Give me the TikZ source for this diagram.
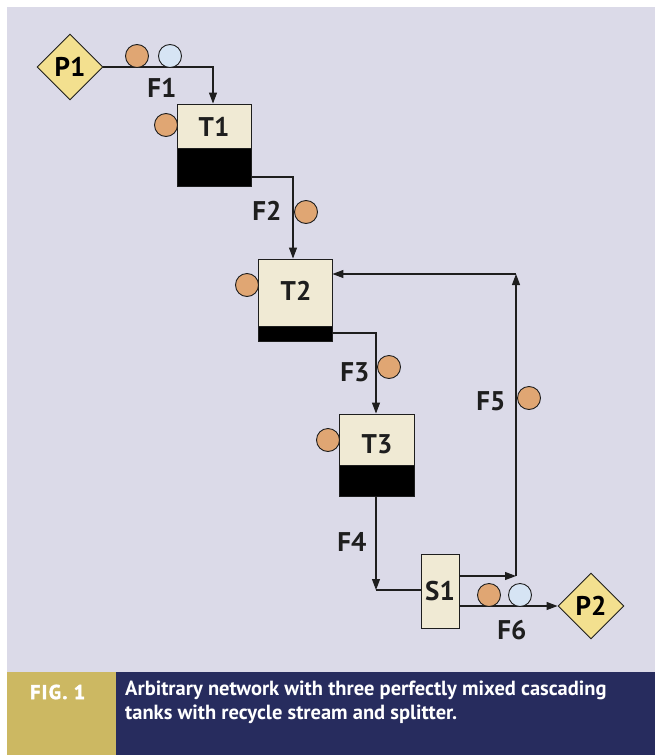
\documentclass[tikz,border=0pt]{standalone}
\usepackage{fontspec}
\setmainfont{PT Sans}
\usetikzlibrary{shapes.geometric,arrows.meta,calc}

\definecolor{panelbg}{HTML}{DBDAE8}
\definecolor{tankfill}{HTML}{F0EAD4}
\definecolor{dotorange}{HTML}{E0A673}
\definecolor{dotblue}{HTML}{D6E4F4}
\definecolor{portfill}{HTML}{F3E08F}
\definecolor{capnavy}{HTML}{272C5E}
\definecolor{capgold}{HTML}{CCB862}
\definecolor{ink}{HTML}{1E1E1E}

\tikzset{
  port/.style={diamond, aspect=1, draw=ink, line width=0.9pt, fill=portfill,
    inner sep=0pt, minimum width=66pt, minimum height=66pt,
    font=\bfseries\fontsize{27}{29}\selectfont},
  tank/.style={rectangle, draw=ink, line width=0.9pt, fill=tankfill, inner sep=0pt},
  lbl/.style={font=\bfseries\fontsize{27}{29}\selectfont, text=ink, inner sep=0pt},
  dot/.style={circle, draw=ink, line width=0.9pt, minimum size=23pt, inner sep=0pt},
  odot/.style={dot, fill=dotorange},
  bdot/.style={dot, fill=dotblue},
  flow/.style={draw=ink, line width=1.1pt, -{Triangle[length=11pt,width=8pt]}},
  pipe/.style={draw=ink, line width=1.1pt},
}

\begin{document}
\begin{tikzpicture}[x=1pt,y=-1pt]
  % page and panel
  \useasboundingbox (0,0) rectangle (655,755);
  \fill[white] (0,0) rectangle (655,755);
  \fill[panelbg] (7,7) rectangle (655,672);
  \fill[capnavy] (7,672) rectangle (655,755);
  \fill[capgold] (7,672) rectangle (116,755);

  % caption
  \node[anchor=west, text=white, inner sep=0pt,
        font=\bfseries\fontsize{20}{22}\selectfont\addfontfeatures{LetterSpace=7,FakeBold=2.5}]
        (fig) at (30,692) {FIG. 1};
  \node[anchor=north west, text=white, inner sep=0pt, align=left,
        font=\bfseries\fontsize{20.5}{23.5}\selectfont] (cap) at (125,681)
        {Arbitrary network with three perfectly mixed cascading\\
         tanks with recycle stream and splitter.};

  % ports
  \node[port] (P1) at (70,67) {P1};
  \node[port] (P2) at (591,606) {P2};

  % tanks: cream body with black liquid layer at the bottom
  \node[tank, minimum width=74pt, minimum height=82pt] (T1) at (214,145) {};
  \filldraw[black, draw=ink, line width=0.9pt] (177,148) rectangle (251,186);
  \node[lbl] (T1l) at (214,127) {T1};

  \node[tank, minimum width=74pt, minimum height=82pt] (T2) at (295,300) {};
  \filldraw[black, draw=ink, line width=0.9pt] (258,326) rectangle (332,341);
  \node[lbl] (T2l) at (296,291) {T2};

  \node[tank, minimum width=75pt, minimum height=82pt] (T3) at (376.5,455) {};
  \filldraw[black, draw=ink, line width=0.9pt] (339,465) rectangle (414,496);
  \node[lbl] (T3l) at (377,444) {T3};

  % splitter
  \node[tank, minimum width=38pt, minimum height=74pt, lbl] (S1) at (440,591) {S1};

  % bend points
  \coordinate (c2) at (293,177);
  \coordinate (c3) at (376,333);
  \coordinate (c4) at (376,590);
  \coordinate (c5a) at (516,576);
  \coordinate (c5b) at (516,274);

  % streams
  \draw[flow] (P1.east) -| (T1.north -| 213,0);
  \draw[flow] (T1.east |- c2) -- (c2) -- (T2.north -| c2);
  \draw[flow] (T2.east |- c3) -- (c3) -- (T3.north -| c3);
  \draw[flow] (T3.south -| c4) -- (c4);
  \draw[pipe] (c4) -- (S1.west |- c4);
  \draw[flow] (S1.east |- c5a) -- (c5a);
  \draw[flow] (c5a) -- (c5b);
  \draw[flow] (c5b) -- (T2.east |- c5b);
  \draw[flow] (S1.east |- P2.west) -- (P2.west);

  % stream labels
  \node[lbl] (F1) at (162,88) {F1};
  \node[lbl] (F2) at (267,211) {F2};
  \node[lbl] (F3) at (355,372) {F3};
  \node[lbl] (F4) at (352,542) {F4};
  \node[lbl] (F5) at (491,401) {F5};
  \node[lbl] (F6) at (512,630) {F6};

  % composition markers
  \node[odot] (d1a) at (137,56) {};
  \node[bdot] (d1b) at (170,56) {};
  \node[odot] (dT1) at (166,125) {};
  \node[odot] (d2) at (306,212) {};
  \node[odot] (dT2) at (247,285) {};
  \node[odot] (d3) at (389,367) {};
  \node[odot] (dT3) at (328,440) {};
  \node[odot] (d5) at (529,398) {};
  \node[odot] (d6a) at (489,595) {};
  \node[bdot] (d6b) at (520,595) {};
\end{tikzpicture}
\end{document}
